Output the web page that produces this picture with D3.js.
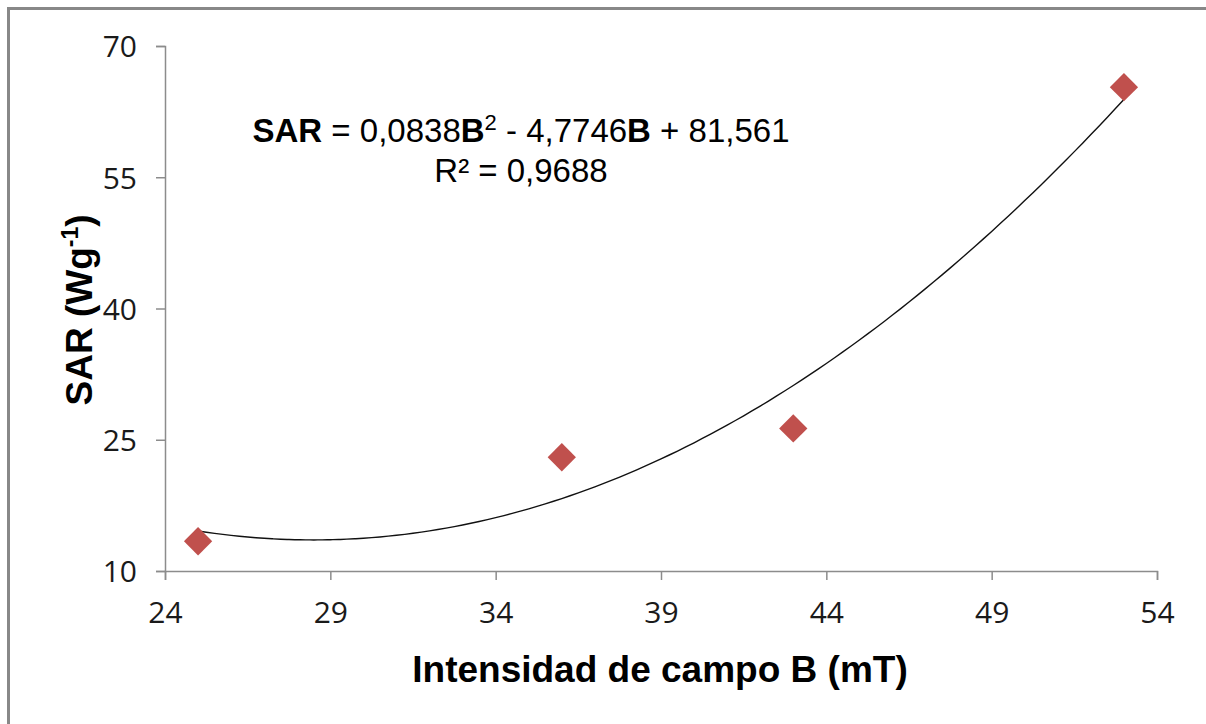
<!DOCTYPE html>
<html>
<head>
<meta charset="utf-8">
<script src="https://cdn.jsdelivr.net/npm/d3@7"></script>
<style>
  body { margin: 0; background: #fff; }
  svg { display: block; }
</style>
</head>
<body>
<div id="container"></div>
<script>
/* DATA */
const fieldB = [25, 36, 43, 53]
const sarValues = [13.4, 23.0, 26.3, 65.3]
const xTicks = [24, 29, 34, 39, 44, 49, 54]
const yTicks = [10, 25, 40, 55, 70]
// trendline coefficients shown on the chart: a*B^2 + b*B + c
const trendCoef = [0.0838, -4.7746, 81.561]

/* CONSTANTS */
const width = 1206,
height = 724,
margin = { top: 46, bottom: 153, left: 165, right: 49 }

const svg = d3.select("#container")
  .append("svg")
  .attr("width", width)
  .attr("height", height)

// outer frame
svg.append("rect")
  .attr("x", 8.5)
  .attr("y", 8.5)
  .attr("width", width + 20)
  .attr("height", height + 20)
  .attr("fill", "none")
  .attr("stroke", "#888")
  .attr("stroke-width", 3)

// SCALES
const xScale = d3.scaleLinear()
  .domain([24, 54])
  .range([margin.left, width - margin.right])

const yScale = d3.scaleLinear()
  .domain([10, 70])
  .range([height - margin.bottom, margin.top])

// AXES
const xAxis = d3.axisBottom(xScale)
  .tickValues(xTicks)
  .tickSize(9)
  .tickPadding(22)
const xAxisGroup = svg.append("g")
  .attr("transform", `translate(0, ${height - margin.bottom})`)
  .call(xAxis)

const yAxis = d3.axisLeft(yScale)
  .tickValues(yTicks)
  .tickSize(9)
  .tickPadding(19)
const yAxisGroup = svg.append("g")
  .attr("transform", `translate(${margin.left}, 0)`)
  .call(yAxis)

svg.selectAll(".domain")
  .attr("stroke", "#8c8c8c")
  .attr("stroke-width", 1.5)
svg.selectAll(".tick line")
  .attr("stroke", "#8c8c8c")
  .attr("stroke-width", 1.5)
svg.selectAll(".tick text")
  .attr("fill", "#1a1a1a")
  .style("font-family", "'Open Sans', 'DejaVu Sans', sans-serif")
  .style("font-size", "30px")
yAxisGroup.selectAll(".tick text").attr("dy", "0.36em")

// TRENDLINE (polynomial order 2)
const trendX = d3.range(fieldB[0], fieldB[fieldB.length - 1] + 0.01, 0.25)
const lineGen = d3.line()
  .x(d => xScale(d))
  .y(d => yScale(trendCoef[0] * d * d + trendCoef[1] * d + trendCoef[2]))
  .curve(d3.curveMonotoneX)

svg.append("path")
  .datum(trendX)
  .attr("d", lineGen)
  .attr("fill", "none")
  .attr("stroke", "#111")
  .attr("stroke-width", 1.4)

// POINTS
const diamond = d3.symbol().type(d3.symbolSquare).size(400)
svg.selectAll(".pt")
  .data(fieldB.map((b, i) => ({ b, s: sarValues[i] })))
  .join("path")
  .attr("class", "pt")
  .attr("d", diamond)
  .attr("transform", d => `translate(${xScale(d.b)}, ${yScale(d.s)}) rotate(45)`)
  .attr("fill", "#C0504D")

// EQUATION LABEL
const eq = svg.append("text")
  .attr("x", 521)
  .attr("y", 142)
  .attr("text-anchor", "middle")
  .style("font-family", "'Liberation Sans', Arial, sans-serif")
  .style("font-size", "33px")
  .attr("fill", "#000")
eq.append("tspan").style("font-weight", "bold").text("SAR")
eq.append("tspan").text(" = 0,0838")
eq.append("tspan").style("font-weight", "bold").text("B")
eq.append("tspan").attr("dy", -12).style("font-size", "22px").text("2")
eq.append("tspan").attr("dy", 12).text(" - 4,7746")
eq.append("tspan").style("font-weight", "bold").text("B")
eq.append("tspan").text(" + 81,561")

svg.append("text")
  .attr("x", 521)
  .attr("y", 182)
  .attr("text-anchor", "middle")
  .style("font-family", "'Liberation Sans', Arial, sans-serif")
  .style("font-size", "33px")
  .text("R² = 0,9688")

// AXIS TITLES
svg.append("text")
  .attr("x", 660)
  .attr("y", 682)
  .attr("text-anchor", "middle")
  .style("font-family", "'Liberation Sans', Arial, sans-serif")
  .style("font-weight", "bold")
  .style("font-size", "37px")
  .text("Intensidad de campo B (mT)")

const yTitle = svg.append("text")
  .attr("transform", `translate(92, 310) rotate(-90)`)
  .attr("text-anchor", "middle")
  .style("font-family", "'Liberation Sans', Arial, sans-serif")
  .style("font-weight", "bold")
  .style("font-size", "37px")
yTitle.append("tspan").text("SAR (Wg")
yTitle.append("tspan").attr("dy", -14).style("font-size", "23px").text("-1")
yTitle.append("tspan").attr("dy", 14).text(")")
</script>
</body>
</html>
